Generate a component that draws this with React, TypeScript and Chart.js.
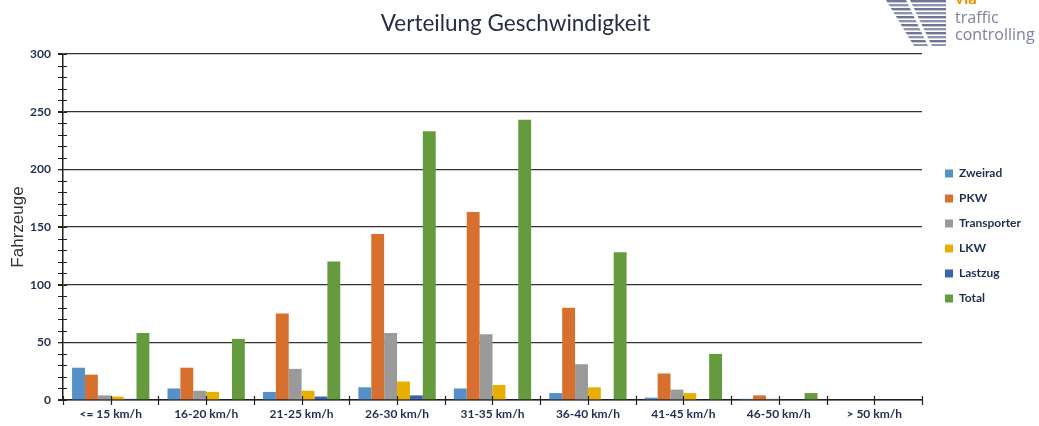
import React, { useEffect, useRef } from "react";
import { Chart, registerables } from "chart.js";

Chart.register(...registerables);

const categories = [
  "<= 15 km/h",
  "16-20 km/h",
  "21-25 km/h",
  "26-30 km/h",
  "31-35 km/h",
  "36-40 km/h",
  "41-45 km/h",
  "46-50 km/h",
  "> 50 km/h",
];
const zweirad = [28, 10, 7, 11, 10, 6, 2, 1, 0];
const pkw = [22, 28, 75, 144, 163, 80, 23, 4, 0];
const transporter = [4, 8, 27, 58, 57, 31, 9, 1, 0];
const lkw = [3, 7, 8, 16, 13, 11, 6, 0, 0];
const lastzug = [1, 0, 3, 4, 0, 0, 0, 0, 0];
const total = [58, 53, 120, 233, 243, 128, 40, 6, 0];

const seriesNames = ["Zweirad", "PKW", "Transporter", "LKW", "Lastzug", "Total"];
const seriesValues = [zweirad, pkw, transporter, lkw, lastzug, total];
const seriesColors = ["#5590C8", "#D7702F", "#9A9A9A", "#E8AE00", "#3B63AE", "#659B3E"];

const yMin = 0;
const yMax = 300;
const yMajorStep = 50;
const yMinorStep = 10;

const titleText = "Verteilung Geschwindigkeit";
const yTitleText = "Fahrzeuge";

const minorTicks = {
  id: "minorTicks",
  afterDatasetsDraw(chart: any) {
    const { ctx, scales } = chart;
    const x = scales.x;
    const y = scales.y;
    ctx.save();
    ctx.strokeStyle = "#222";
    ctx.lineWidth = 1.2;
    ctx.beginPath();
    for (let v = yMin; v <= yMax; v += yMinorStep) {
      const py = Math.round(y.getPixelForValue(v)) + 0.5;
      ctx.moveTo(x.left - 5, py);
      ctx.lineTo(x.left + 4, py);
    }
    for (let i = 0; i <= categories.length; i++) {
      const pb = Math.round(x.getPixelForValue(i - 0.5)) + 0.5;
      ctx.moveTo(pb, y.bottom - 4);
      ctx.lineTo(pb, y.bottom + 5);
      if (i < categories.length) {
        const pc = Math.round(x.getPixelForValue(i)) + 0.5;
        ctx.moveTo(pc, y.bottom - 4);
        ctx.lineTo(pc, y.bottom + 5);
      }
    }
    ctx.stroke();
    ctx.restore();
  },
};

function Logo() {
  const stripes = [];
  for (let i = 0; i < 12; i++) {
    stripes.push(
      <rect key={i} x={0} y={i * 4} width={70} height={2.4} fill={i % 2 ? "#8D93B0" : "#6F7696"} />
    );
  }
  return (
    <div style={{ position: "absolute", left: 0, top: 0, width: 1039, height: 60, pointerEvents: "none" }}>
      <svg width={70} height={46} style={{ position: "absolute", left: 884, top: 0 }}>
        <defs>
          <clipPath id="vaClip">
            <polygon points="2,0 22,0 44,46 30,46" />
            <polygon points="26,0 62,0 62,46 48,46" />
          </clipPath>
        </defs>
        <g clipPath="url(#vaClip)">{stripes}</g>
      </svg>
      <div
        style={{
          position: "absolute",
          left: 955,
          top: -11,
          fontFamily: "Lato, 'Open Sans', sans-serif",
          fontWeight: 700,
          fontSize: 17,
          color: "#F39200",
          lineHeight: "18px",
        }}
      >
        via
      </div>
      <div
        style={{
          position: "absolute",
          left: 955,
          top: 9,
          fontFamily: "'Open Sans', Lato, sans-serif",
          fontSize: 16,
          color: "#7C82A0",
          lineHeight: "17px",
        }}
      >
        traffic
      </div>
      <div
        style={{
          position: "absolute",
          left: 955,
          top: 26,
          fontFamily: "'Open Sans', Lato, sans-serif",
          fontSize: 16,
          color: "#7C82A0",
          lineHeight: "17px",
        }}
      >
        controlling
      </div>
    </div>
  );
}

export default function App() {
  const canvasRef = useRef<HTMLCanvasElement | null>(null);

  useEffect(() => {
    const canvas = canvasRef.current;
    if (!canvas) return;
    const chart = new Chart(canvas, {
      type: "bar",
      data: {
        labels: categories,
        datasets: seriesNames.map((name, i) => ({
          label: name,
          data: seriesValues[i],
          backgroundColor: seriesColors[i],
          borderWidth: 0,
          categoryPercentage: 0.81,
          barPercentage: 1.0,
          yAxisID: "y",
        })),
      },
      options: {
        responsive: false,
        animation: false,
        devicePixelRatio: 1,
        layout: { padding: { left: 0, right: 8, top: 0, bottom: 4 } },
        plugins: {
          title: {
            display: true,
            text: titleText,
            font: { family: "Lato", size: 22.5, weight: "normal" },
            color: "#262C46",
            padding: { top: 10, bottom: 17 },
          },
          legend: {
            position: "right",
            title: {
              display: true,
              text: " ",
              font: { family: "Lato", size: 10 },
              padding: { top: 38, bottom: 0 },
            },
            labels: {
              boxWidth: 8,
              boxHeight: 8,
              padding: 13,
              font: { family: "Lato", size: 12, weight: "bold" },
              color: "#1F2D50",
            },
          },
          tooltip: { enabled: false },
        },
        scales: {
          x: {
            grid: { display: false, tickLength: 4 },
            border: { display: true, color: "#222", width: 1.5 },
            ticks: {
              font: { family: "Lato", size: 12, weight: "bold" },
              color: "#1F2D50",
              padding: 3,
              maxRotation: 0,
              autoSkip: false,
            },
            afterFit: (axis: any) => {
              axis.height = 22;
            },
          },
          y: {
            min: yMin,
            max: yMax,
            ticks: {
              stepSize: yMajorStep,
              font: { family: "Lato", size: 12, weight: "bold" },
              color: "#1F2D50",
              padding: 7,
            },
            grid: { color: "#333", lineWidth: 1.3, tickLength: 5, tickColor: "#222" },
            border: { display: true, color: "#222", width: 1.5 },
            title: {
              display: true,
              text: yTitleText,
              font: { family: "Liberation Sans", size: 17 },
              color: "#333",
              padding: { top: 8, bottom: 0 },
            },
            afterFit: (axis: any) => {
              axis.width = 63;
            },
          },
          spacer: {
            type: "linear",
            position: "right",
            display: true,
            grid: { display: false, drawTicks: false },
            border: { display: false },
            ticks: { display: false },
            afterFit: (axis: any) => {
              axis.width = 10;
            },
          },
        },
      },
      plugins: [minorTicks],
    });
    return () => chart.destroy();
  }, []);

  return (
    <div style={{ position: "absolute", left: 0, top: 0, width: 1039, height: 426, background: "#fff" }}>
      <canvas ref={canvasRef} width={1039} height={426} style={{ width: 1039, height: 426, display: "block" }} />
      <Logo />
    </div>
  );
}
